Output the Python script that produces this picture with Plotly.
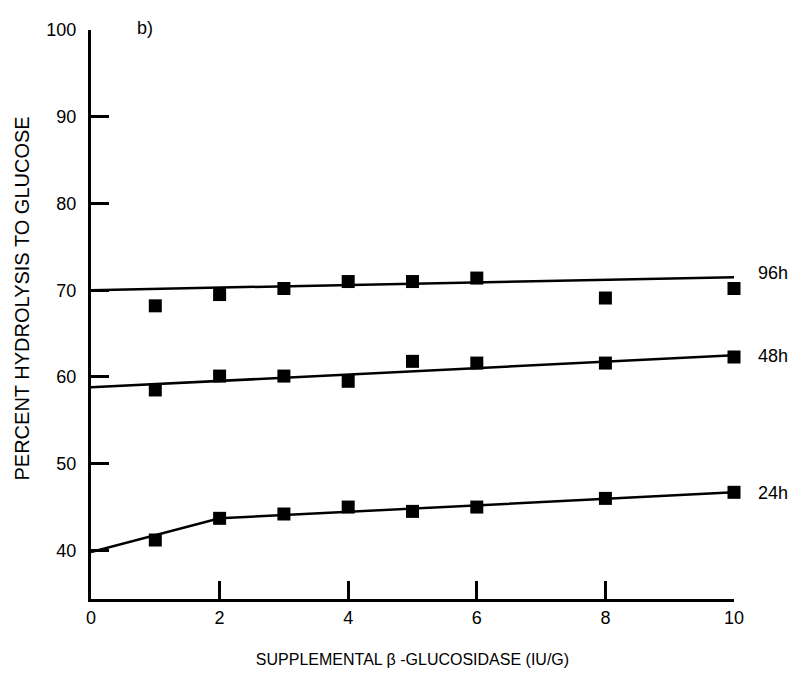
import plotly.graph_objects as go

# Data
x_pts = [1, 2, 3, 4, 5, 6, 8, 10]
y_96h = [68.2, 69.5, 70.2, 71.0, 71.0, 71.4, 69.1, 70.2]
y_48h = [58.5, 60.1, 60.1, 59.5, 61.8, 61.6, 61.6, 62.3]
y_24h = [41.2, 43.7, 44.2, 45.0, 44.5, 45.0, 46.0, 46.7]

fit_96h_x = [0, 10]
fit_96h_y = [70.0, 71.5]
fit_48h_x = [0, 10]
fit_48h_y = [58.8, 62.5]
fit_24h_x = [0, 2, 10]
fit_24h_y = [39.8, 43.7, 46.7]

series_labels = ["96h", "48h", "24h"]
label_y = [72.0, 62.4, 46.6]

x_ticks = [0, 2, 4, 6, 8, 10]
y_ticks = [40, 50, 60, 70, 80, 90, 100]

FONT = "Liberation Sans, Arial, sans-serif"

fig = go.Figure()

for fx, fy in [(fit_96h_x, fit_96h_y), (fit_48h_x, fit_48h_y), (fit_24h_x, fit_24h_y)]:
    fig.add_trace(go.Scatter(x=fx, y=fy, mode="lines",
                             line=dict(color="black", width=2.5),
                             cliponaxis=False, showlegend=False, hoverinfo="skip"))

for ys in [y_96h, y_48h, y_24h]:
    fig.add_trace(go.Scatter(x=x_pts, y=ys, mode="markers",
                             marker=dict(symbol="square", size=13, color="black",
                                         line=dict(width=0)),
                             cliponaxis=False, showlegend=False))

for lab, ly in zip(series_labels, label_y):
    fig.add_annotation(x=10, y=ly, text=lab, showarrow=False, xanchor="left",
                       yanchor="middle", xshift=22,
                       font=dict(family=FONT, size=18, color="black"))

fig.add_annotation(x=0, y=100, text="b)", showarrow=False, xanchor="left",
                   yanchor="middle", xshift=44, yshift=2,
                   font=dict(family=FONT, size=18, color="black"))

# y-axis title (placed slightly above plot centre as in the original)
fig.add_annotation(xref="paper", yref="paper", x=0, y=0.5, xshift=-70, yshift=16,
                   text="PERCENT HYDROLYSIS TO GLUCOSE", textangle=-90,
                   showarrow=False, xanchor="center", yanchor="middle",
                   font=dict(family=FONT, size=20, color="black"))

fig.update_layout(
    width=789, height=671,
    margin=dict(l=83, r=63, t=16, b=79),
    paper_bgcolor="white", plot_bgcolor="white",
    font=dict(family=FONT, size=18, color="black"),
    showlegend=False,
)

fig.update_xaxes(
    range=[0, 10], tickvals=x_ticks, ticktext=[str(v) for v in x_ticks],
    showgrid=False, zeroline=False,
    showline=True, linecolor="black", linewidth=3,
    ticks="inside", ticklen=18, tickwidth=2.5, tickcolor="black",
    ticklabelstandoff=0,
    tickfont=dict(family=FONT, size=18, color="black"),
    title=dict(text="SUPPLEMENTAL \u03b2 -GLUCOSIDASE (IU/G)",
               font=dict(family=FONT, size=16, color="black"), standoff=28),
)
fig.update_yaxes(
    range=[34.4, 100], tickvals=y_ticks, ticktext=[str(v) for v in y_ticks],
    showgrid=False, zeroline=False,
    showline=True, linecolor="black", linewidth=3,
    ticks="inside", ticklen=18, tickwidth=2.5, tickcolor="black",
    ticklabelstandoff=8,
    tickfont=dict(family=FONT, size=18, color="black"),
)

fig.write_html("out.html")
